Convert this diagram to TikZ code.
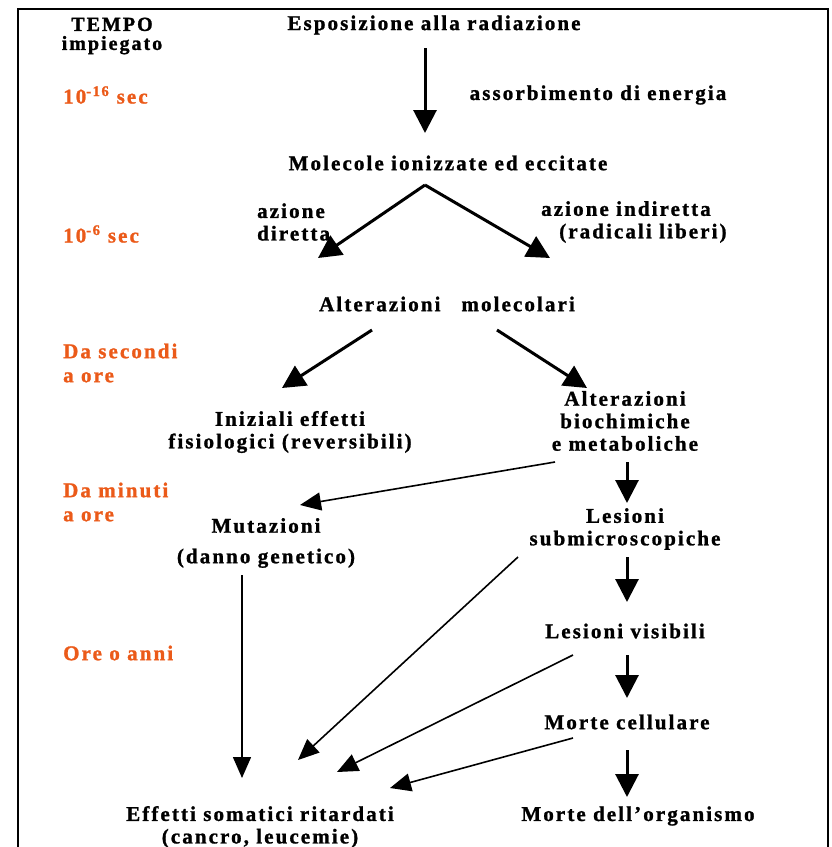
\documentclass[tikz,border=0pt]{standalone}
\usepackage{fontspec}
\setmainfont{Liberation Serif}[LetterSpace=10,BoldFeatures={FakeBold=1.2}]
\usepackage{tikz}
\usetikzlibrary{arrows.meta}
\definecolor{tempoorange}{RGB}{235,90,25}

\tikzset{
  txt/.style={font=\fontsize{21}{22.5}\selectfont\bfseries,align=center,inner sep=1pt},
  tempo/.style={txt,text=tempoorange,align=left,anchor=west},
  bigarr/.style={line width=3pt,-{Triangle[length=23pt,width=23pt]}},
  slimarr/.style={line width=1.6pt,-{Triangle[length=21pt,width=18pt]}}
}

\begin{document}
\begin{tikzpicture}[x=1pt,y=-1pt]
  \useasboundingbox (0,0) rectangle (831,847);
  \draw[line width=2pt] (18,847)--(18,9)--(828,9)--(828,847);

  % colonna del tempo
  \node[txt,font=\fontsize{20}{19}\selectfont\bfseries] (tempo) at (112,36) {TEMPO\\impiegato};
  \node[tempo] (t16) at (62,95) {10\textsuperscript{-16} sec};
  \node[tempo] (t6) at (62,234) {10\textsuperscript{-6} sec};
  \node[tempo,font=\fontsize{21}{24}\selectfont\bfseries] (secondi) at (62,363) {Da secondi\\a ore};
  \node[tempo,font=\fontsize{21}{24}\selectfont\bfseries] (minuti) at (62,502) {Da minuti\\a ore};
  \node[tempo] (anni) at (62,653) {Ore o anni};

  % eventi
  \node[txt] (expo) at (434,25) {Esposizione alla radiazione};
  \node[txt] (assorb) at (598,95) {assorbimento di energia};
  \node[txt] (mol) at (448,163) {Molecole ionizzate ed eccitate};
  \node[txt,align=left,anchor=west] (diretta) at (256,222) {azione\\diretta};
  \node[txt,align=left,anchor=west] (indiretta) at (540,222) {azione indiretta\\\hspace*{18pt}(radicali liberi)};
  \node[txt] (molec) at (447,304) {Alterazioni\quad molecolari};
  \node[txt] (fisio) at (290,432) {Iniziali effetti\\fisiologici (reversibili)};
  \node[txt] (biochim) at (625,421) {Alterazioni\\biochimiche\\e metaboliche};
  \node[txt] (mutaz) at (266,543) {Mutazioni\\[8pt](danno genetico)};
  \node[txt] (submicro) at (625,529) {Lesioni\\submicroscopiche};
  \node[txt] (visibili) at (625,631) {Lesioni visibili};
  \node[txt] (cellulare) at (627,722) {Morte cellulare};
  \node[txt] (somatici) at (260,827) {Effetti somatici ritardati\\(cancro, leucemie)};
  \node[txt] (organismo) at (638,816) {Morte dell'organismo};

  \draw[bigarr] ([shift={(-9,23)}]expo.center) -- ([shift={(-23,-30)}]mol.center);
  \draw[bigarr] ([shift={(-23,22)}]mol.center) -- ([shift={(-129,-46)}]molec.center);
  \draw[bigarr] ([shift={(-23,22)}]mol.center) -- ([shift={(103,-46)}]molec.center);
  \draw[bigarr] ([shift={(-75,26)}]molec.center) -- ([shift={(-8,-44)}]fisio.center);
  \draw[bigarr] ([shift={(50,26)}]molec.center) -- ([shift={(-38,-33)}]biochim.center);
  \draw[slimarr] ([shift={(-70,41)}]biochim.center) -- ([shift={(34,-38)}]mutaz.center);
  \draw[bigarr] ([shift={(2,41)}]biochim.center) -- ([shift={(2,-26)}]submicro.center);
  \draw[bigarr] ([shift={(2,28)}]submicro.center) -- ([shift={(2,-29)}]visibili.center);
  \draw[slimarr] ([shift={(-107,28)}]submicro.center) -- ([shift={(38,-67)}]somatici.center);
  \draw[slimarr] ([shift={(-24,32)}]mutaz.center) -- ([shift={(-18,-49)}]somatici.center);
  \draw[bigarr] ([shift={(2,24)}]visibili.center) -- ([shift={(0,-24)}]cellulare.center);
  \draw[slimarr] ([shift={(-52,24)}]visibili.center) -- ([shift={(77,-55)}]somatici.center);
  \draw[slimarr] ([shift={(-54,16)}]cellulare.center) -- ([shift={(130,-39)}]somatici.center);
  \draw[bigarr] ([shift={(0,28)}]cellulare.center) -- ([shift={(-11,-19)}]organismo.center);
\end{tikzpicture}
\end{document}
